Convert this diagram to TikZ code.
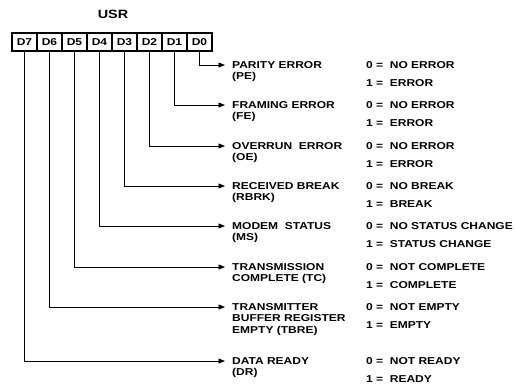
\documentclass[tikz,border=0pt]{standalone}
\usepackage{fontspec}
\setmainfont{Liberation Sans}[FakeStretch=1.2]
\usetikzlibrary{arrows.meta}

\begin{document}
\begin{tikzpicture}[
    x=1pt, y=-1pt,
    cell/.style={draw, line width=1.1pt, minimum width=25pt, minimum height=18pt, inner sep=0pt, font=\fontsize{10}{11}\selectfont\bfseries},
    title/.style={font=\fontsize{12}{13}\selectfont\bfseries},
    lbl/.style={anchor=north west, align=left, inner sep=0pt, font=\fontsize{10}{11.5}\selectfont\bfseries},
    val/.style={anchor=base west, inner sep=0pt, font=\fontsize{10}{11.5}\selectfont\bfseries},
    link/.style={line width=0.9pt, -{Triangle[length=6.5pt, width=5pt]}}
]
\useasboundingbox (0,0) rectangle (516,386);

% Register
\node[title] (usr) at (113,14) {USR};
\node[cell] (d7) at (24.5,42) {D7};
\node[cell] (d6) at (49.5,42) {D6};
\node[cell] (d5) at (74.5,42) {D5};
\node[cell] (d4) at (99.5,42) {D4};
\node[cell] (d3) at (124.5,42) {D3};
\node[cell] (d2) at (149.5,42) {D2};
\node[cell] (d1) at (174.5,42) {D1};
\node[cell] (d0) at (199.5,42) {D0};
\draw[line width=1.6pt] (d7.north west) rectangle (d0.south east);

% Arrow ends
\coordinate (pe-in) at (225,65);
\coordinate (fe-in) at (225,105);
\coordinate (oe-in) at (225,146);
\coordinate (rbrk-in) at (225,186);
\coordinate (ms-in) at (225,226);
\coordinate (tc-in) at (225,267);
\coordinate (tbre-in) at (225,307);
\coordinate (dr-in) at (225,361);

% Flags
\node[lbl] (pe) at (232,61.3) {PARITY ERROR\\(PE)};
\node[lbl] (fe) at (232,101.3) {FRAMING ERROR\\(FE)};
\node[lbl] (oe) at (232,142.3) {OVERRUN\ \ ERROR\\(OE)};
\node[lbl] (rbrk) at (232,182.3) {RECEIVED BREAK\\(RBRK)};
\node[lbl] (ms) at (232,222.3) {MODEM\ \ STATUS\\(MS)};
\node[lbl] (tc) at (232,263.3) {TRANSMISSION\\COMPLETE (TC)};
\node[lbl] (tbre) at (232,303.3) {TRANSMITTER\\BUFFER REGISTER\\EMPTY (TBRE)};
\node[lbl] (dr) at (232,357.3) {DATA READY\\(DR)};

% Values
\node[val] (pe0) at (366,68.5) {0 = \ NO ERROR};
\node[val] (pe1) at (366,86.5) {1 = \ ERROR};
\node[val] (fe0) at (366,108.5) {0 = \ NO ERROR};
\node[val] (fe1) at (366,126.5) {1 = \ ERROR};
\node[val] (oe0) at (366,149.5) {0 = \ NO ERROR};
\node[val] (oe1) at (366,167.5) {1 = \ ERROR};
\node[val] (rbrk0) at (366,189.5) {0 = \ NO BREAK};
\node[val] (rbrk1) at (366,207.5) {1 = \ BREAK};
\node[val] (ms0) at (366,229.5) {0 = \ NO STATUS CHANGE};
\node[val] (ms1) at (366,247.5) {1 = \ STATUS CHANGE};
\node[val] (tc0) at (366,270.5) {0 = \ NOT COMPLETE};
\node[val] (tc1) at (366,288.5) {1 = \ COMPLETE};
\node[val] (tbre0) at (366,310.5) {0 = \ NOT EMPTY};
\node[val] (tbre1) at (366,328.5) {1 = \ EMPTY};
\node[val] (dr0) at (366,364.5) {0 = \ NOT READY};
\node[val] (dr1) at (366,382.5) {1 = \ READY};

% Connections
\draw[link] (d0) |- (pe-in);
\draw[link] (d1) |- (fe-in);
\draw[link] (d2) |- (oe-in);
\draw[link] (d3) |- (rbrk-in);
\draw[link] (d4) |- (ms-in);
\draw[link] (d5) |- (tc-in);
\draw[link] (d6) |- (tbre-in);
\draw[link] (d7) |- (dr-in);

\end{tikzpicture}
\end{document}
